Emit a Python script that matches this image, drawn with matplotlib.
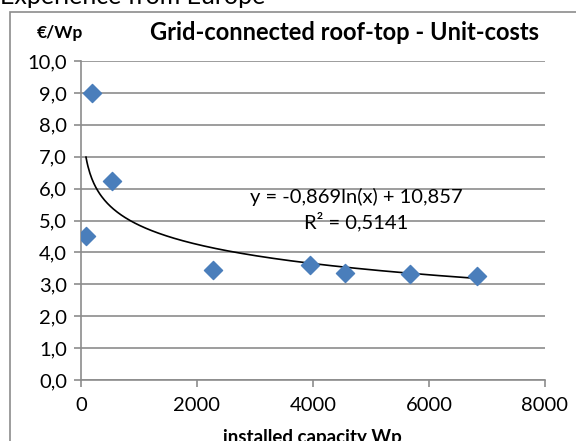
import numpy as np
import matplotlib
matplotlib.use("Agg")
import matplotlib.pyplot as plt
from matplotlib.patches import Rectangle

plt.rcParams['font.family'] = ['Lato', 'DejaVu Sans']

capacity = [86, 190, 535, 2276, 3948, 4552, 5672, 6828]
unit_cost = [4.50, 9.00, 6.24, 3.45, 3.60, 3.35, 3.33, 3.27]
yticks = [0, 1, 2, 3, 4, 5, 6, 7, 8, 9, 10]
xticks = [0, 2000, 4000, 6000, 8000]
coef_a = -0.869
coef_b = 10.857

W, H = 576, 441
fig = plt.figure(figsize=(W / 100, H / 100), dpi=100)

# outer chart frame
fig.patches.append(Rectangle((10 / W, -0.1), 1.2, (H - 12) / H + 0.1,
                             transform=fig.transFigure, fill=False,
                             edgecolor='#8c8c8c', linewidth=1.2))
fig.text(0 / W, 1 - 4 / H, "Experience from Europe", fontsize=18,
         ha='left', va='baseline', color='black')

ax = fig.add_axes([81 / W, 1 - 380 / H, (545 - 81) / W, (380 - 61) / H])
ax.set_xlim(0, 8000)
ax.set_ylim(0, 10)
ax.set_yticks(yticks)
ax.set_yticklabels([f"{v:.1f}".replace('.', ',') for v in yticks])
ax.set_xticks(xticks)
ax.set_xticklabels([str(v) for v in xticks])
ax.grid(axis='y', color='#8c8c8c', linewidth=1.2)
ax.set_axisbelow(True)
for s in ['top', 'right']:
    ax.spines[s].set_visible(False)
for s in ['left', 'bottom']:
    ax.spines[s].set_color('#8c8c8c')
    ax.spines[s].set_linewidth(1.2)
ax.tick_params(axis='both', colors='#8c8c8c', labelcolor='black',
               labelsize=14.5, length=5, width=1.2)
ax.tick_params(axis='x', pad=7)
ax.tick_params(axis='y', pad=5)

xs = np.linspace(min(capacity), max(capacity), 400)
ax.plot(xs, coef_a * np.log(xs) + coef_b, color='black', linewidth=1.2, zorder=2)
ax.scatter(capacity, unit_cost, marker='D', s=85, color='#4a7ebb',
           edgecolor='#4a7ebb', zorder=3)

def px_to_data(px, py):
    return ((px - 81) / 464 * 8000, (380 - py) / 31.9)

x1, y1 = px_to_data(356, 197)
x2, y2 = px_to_data(356, 222)
ax.text(x1, y1, "y = -0,869ln(x) + 10,857", ha='center', va='center',
        fontsize=14.5)
ax.text(x2, y2, "R² = 0,5141", ha='center', va='center', fontsize=14.5)

fig.text(60 / W, 1 - 33 / H, "€/Wp", fontsize=12.5, fontweight='bold',
         ha='center', va='center')
fig.text(344 / W, 1 - 33 / H, "Grid-connected roof-top - Unit-costs",
         fontsize=17, fontweight='bold', ha='center', va='center')
fig.text(312 / W, 1 - 437 / H, "installed capacity Wp", fontsize=13.5,
         fontweight='bold', ha='center', va='center')

fig.savefig("out.png", dpi=100)
